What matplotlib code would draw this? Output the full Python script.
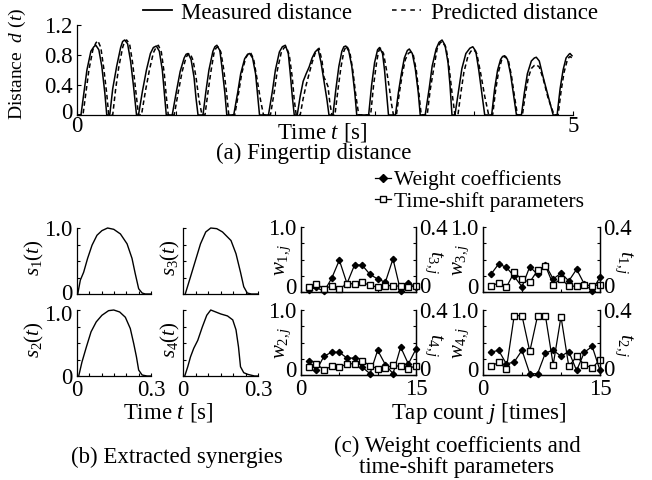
import matplotlib.pyplot as plt
from matplotlib.lines import Line2D
from matplotlib.transforms import ScaledTranslation

plt.rcParams["font.family"] = "Liberation Serif"
plt.rcParams["mathtext.fontset"] = "custom"
plt.rcParams["mathtext.rm"] = "Liberation Serif"
plt.rcParams["mathtext.it"] = "Liberation Serif:italic"
plt.rcParams["font.size"] = 16.5
plt.rcParams["xtick.direction"] = "in"
plt.rcParams["ytick.direction"] = "in"
plt.rcParams["xtick.major.pad"] = 3
plt.rcParams["ytick.major.pad"] = 3
plt.rcParams["axes.linewidth"] = 0.9

# --- (a) fingertip distance, one hump per line ---
meas_t = [0.00,
          0.04, 0.07, 0.10, 0.14, 0.17, 0.19, 0.22, 0.25, 0.28, 0.30,
          0.33, 0.36, 0.40, 0.44, 0.46, 0.48, 0.51, 0.54, 0.57, 0.60,
          0.62, 0.66, 0.70, 0.74, 0.77, 0.80, 0.83, 0.86, 0.88, 0.90,
          0.96, 1.00, 1.04, 1.08, 1.10, 1.12, 1.15, 1.18, 1.20, 1.22,
          1.27, 1.30, 1.33, 1.37, 1.39, 1.41, 1.44, 1.46, 1.49, 1.51,
          1.58, 1.62, 1.65, 1.69, 1.72, 1.74, 1.77, 1.80, 1.82, 1.84,
          1.93, 1.97, 2.00, 2.04, 2.07, 2.10, 2.13, 2.15, 2.17, 2.19,
          2.22, 2.25, 2.28, 2.31, 2.34, 2.37, 2.40, 2.43, 2.46, 2.49, 2.52, 2.54,
          2.58, 2.61, 2.64, 2.67, 2.69, 2.71, 2.74, 2.77, 2.80, 2.82,
          2.94, 2.97, 3.00, 3.03, 3.05, 3.08, 3.10, 3.12, 3.14,
          3.21, 3.24, 3.27, 3.30, 3.33, 3.35, 3.38, 3.41, 3.44, 3.46,
          3.51, 3.55, 3.58, 3.62, 3.65, 3.68, 3.71, 3.74, 3.76, 3.78,
          3.81, 3.85, 3.88, 3.92, 3.96, 3.99, 4.02, 4.05, 4.08, 4.11,
          4.18, 4.21, 4.24, 4.27, 4.29, 4.31, 4.34, 4.37, 4.40, 4.43,
          4.48, 4.51, 4.54, 4.58, 4.61, 4.63, 4.66, 4.70, 4.75, 4.80,
          4.84, 4.87, 4.90, 4.93, 4.96, 4.97, 4.99]
meas_d = [0.0,
          0.0, 0.30, 0.60, 0.85, 0.91, 0.93, 0.87, 0.65, 0.30, 0.0,
          0.0, 0.35, 0.65, 0.90, 0.98, 1.00, 0.95, 0.72, 0.38, 0.0,
          0.0, 0.32, 0.60, 0.82, 0.90, 0.92, 0.85, 0.60, 0.30, 0.0,
          0.0, 0.30, 0.58, 0.76, 0.81, 0.82, 0.74, 0.50, 0.22, 0.0,
          0.0, 0.32, 0.60, 0.85, 0.91, 0.93, 0.86, 0.65, 0.30, 0.0,
          0.0, 0.30, 0.55, 0.75, 0.81, 0.82, 0.76, 0.55, 0.28, 0.0,
          0.0, 0.32, 0.60, 0.84, 0.91, 0.93, 0.82, 0.55, 0.25, 0.0,
          0.0, 0.25, 0.45, 0.55, 0.64, 0.76, 0.84, 0.88, 0.70, 0.45, 0.20, 0.0,
          0.0, 0.35, 0.65, 0.85, 0.91, 0.92, 0.85, 0.65, 0.30, 0.0,
          0.0, 0.40, 0.70, 0.87, 0.90, 0.82, 0.60, 0.30, 0.0,
          0.0, 0.30, 0.55, 0.76, 0.86, 0.88, 0.82, 0.62, 0.30, 0.0,
          0.0, 0.35, 0.65, 0.88, 0.97, 1.00, 0.93, 0.70, 0.40, 0.0,
          0.0, 0.35, 0.62, 0.82, 0.89, 0.91, 0.85, 0.60, 0.30, 0.0,
          0.0, 0.35, 0.60, 0.74, 0.78, 0.79, 0.74, 0.55, 0.28, 0.0,
          0.0, 0.30, 0.55, 0.72, 0.76, 0.77, 0.72, 0.50, 0.25, 0.0,
          0.0, 0.35, 0.60, 0.76, 0.81, 0.82, 0.79]

pred_t = [0.00,
          0.06, 0.09, 0.12, 0.16, 0.19, 0.21, 0.24, 0.27, 0.30, 0.32,
          0.36, 0.39, 0.42, 0.46, 0.48, 0.50, 0.53, 0.56, 0.59, 0.62,
          0.65, 0.69, 0.73, 0.77, 0.80, 0.82, 0.85, 0.88, 0.90, 0.92,
          0.98, 1.02, 1.06, 1.10, 1.12, 1.14, 1.17, 1.20, 1.23, 1.26,
          1.29, 1.32, 1.35, 1.38, 1.40, 1.42, 1.45, 1.48, 1.51, 1.53,
          1.59, 1.63, 1.66, 1.70, 1.73, 1.75, 1.78, 1.81, 1.85, 1.88,
          1.95, 1.99, 2.02, 2.06, 2.09, 2.11, 2.14, 2.17, 2.19, 2.21,
          2.25, 2.28, 2.31, 2.34, 2.37, 2.40, 2.44, 2.47, 2.49, 2.51, 2.53, 2.55, 2.57,
          2.60, 2.63, 2.66, 2.69, 2.71, 2.72, 2.75, 2.78, 2.81, 2.84,
          2.96, 2.99, 3.02, 3.04, 3.06, 3.09, 3.12, 3.15, 3.17, 3.19,
          3.22, 3.25, 3.28, 3.31, 3.34, 3.36, 3.39, 3.42, 3.45, 3.47,
          3.53, 3.56, 3.60, 3.63, 3.66, 3.68, 3.72, 3.75, 3.78, 3.81,
          3.84, 3.87, 3.90, 3.94, 3.97, 4.00, 4.03, 4.07, 4.11, 4.15,
          4.19, 4.22, 4.25, 4.28, 4.30, 4.32, 4.35, 4.38, 4.41, 4.44,
          4.49, 4.52, 4.55, 4.58, 4.61, 4.63, 4.66, 4.70, 4.75, 4.81,
          4.85, 4.88, 4.91, 4.94, 4.96, 4.97, 4.99]
pred_d = [0.0,
          0.0, 0.30, 0.60, 0.87, 0.96, 0.99, 0.90, 0.62, 0.28, 0.0,
          0.0, 0.35, 0.63, 0.90, 0.98, 1.00, 0.95, 0.70, 0.35, 0.0,
          0.0, 0.32, 0.60, 0.83, 0.91, 0.93, 0.84, 0.55, 0.25, 0.0,
          0.0, 0.30, 0.58, 0.77, 0.81, 0.82, 0.73, 0.50, 0.20, 0.0,
          0.0, 0.30, 0.58, 0.82, 0.89, 0.91, 0.84, 0.60, 0.27, 0.0,
          0.0, 0.30, 0.55, 0.76, 0.82, 0.83, 0.75, 0.52, 0.20, 0.0,
          0.0, 0.32, 0.60, 0.84, 0.90, 0.91, 0.80, 0.50, 0.20, 0.0,
          0.0, 0.22, 0.40, 0.55, 0.70, 0.82, 0.89, 0.72, 0.50, 0.45, 0.38, 0.15, 0.0,
          0.0, 0.33, 0.63, 0.85, 0.91, 0.92, 0.84, 0.60, 0.27, 0.0,
          0.0, 0.40, 0.70, 0.85, 0.89, 0.82, 0.60, 0.35, 0.15, 0.0,
          0.0, 0.30, 0.55, 0.74, 0.82, 0.84, 0.80, 0.60, 0.25, 0.0,
          0.0, 0.33, 0.65, 0.88, 0.96, 0.98, 0.90, 0.65, 0.30, 0.0,
          0.0, 0.30, 0.57, 0.78, 0.85, 0.87, 0.82, 0.55, 0.25, 0.0,
          0.0, 0.33, 0.58, 0.73, 0.77, 0.78, 0.72, 0.52, 0.25, 0.0,
          0.0, 0.28, 0.50, 0.62, 0.66, 0.67, 0.64, 0.48, 0.22, 0.0,
          0.0, 0.32, 0.57, 0.72, 0.77, 0.78, 0.76]

# --- (b) extracted synergies ---
syn1_t = [0.003, 0.0135, 0.027, 0.043, 0.061, 0.081, 0.101, 0.124, 0.149, 0.176, 0.203, 0.223, 0.236, 0.25, 0.264, 0.277, 0.3]
syn1 = [0.0, 0.21, 0.33, 0.54, 0.74, 0.89, 0.96, 1.0, 0.98, 0.91, 0.76, 0.54, 0.31, 0.08, 0.015, 0.0, 0.0]
syn2_t = [0.007, 0.02, 0.038, 0.057, 0.078, 0.101, 0.128, 0.149, 0.173, 0.196, 0.216, 0.23, 0.241, 0.25, 0.264, 0.284, 0.3]
syn2 = [0.0, 0.21, 0.44, 0.67, 0.82, 0.92, 0.99, 1.0, 0.97, 0.89, 0.72, 0.49, 0.29, 0.09, 0.015, 0.0, 0.0]
syn3_t = [0.009, 0.03, 0.05, 0.07, 0.091, 0.111, 0.135, 0.158, 0.192, 0.212, 0.23, 0.243, 0.257, 0.273, 0.3]
syn3 = [0.0, 0.26, 0.51, 0.76, 0.94, 1.0, 0.99, 0.94, 0.81, 0.61, 0.33, 0.11, 0.015, 0.0, 0.0]
syn4_t = [0.007, 0.019, 0.03, 0.043, 0.059, 0.077, 0.095, 0.111, 0.131, 0.151, 0.178, 0.199, 0.212, 0.222, 0.23, 0.243, 0.259, 0.286, 0.3]
syn4 = [0.0, 0.14, 0.29, 0.42, 0.54, 0.74, 0.92, 1.0, 0.97, 0.94, 0.91, 0.85, 0.70, 0.44, 0.14, 0.05, 0.025, 0.0, 0.0]

# --- (c) weights and time shifts per tap ---
taps = list(range(1, 16))
w1 = [0.035, 0.07, 0.01, 0.21, 0.49, 0.13, 0.42, 0.41, 0.27, 0.20, 0.15, 0.51, 0.01, 0.14, 0.08]
w2 = [0.21, 0.07, 0.29, 0.35, 0.35, 0.26, 0.26, 0.12, 0.02, 0.38, 0.16, 0.02, 0.43, 0.17, 0.40]
w3 = [0.27, 0.43, 0.38, 0.24, 0.08, 0.39, 0.27, 0.42, 0.20, 0.29, 0.17, 0.35, 0.12, 0.02, 0.23]
w4 = [0.35, 0.38, 0.17, 0.20, 0.38, 0.02, 0.02, 0.34, 0.38, 0.29, 0.36, 0.07, 0.35, 0.44, 0.07]
ts1 = [0.040, 0.053, 0.030, 0.121, 0.077, 0.061, 0.133, 0.162, 0.046, 0.081, 0.036, 0.036, 0.046, 0.036, 0.046]
ts2 = [0.053, 0.078, 0.039, 0.365, 0.365, 0.145, 0.365, 0.365, 0.063, 0.359, 0.053, 0.114, 0.063, 0.043, 0.094]
ts3 = [0.030, 0.051, 0.018, 0.039, 0.020, 0.051, 0.051, 0.059, 0.041, 0.030, 0.039, 0.039, 0.035, 0.030, 0.039]
ts4 = [0.047, 0.067, 0.033, 0.053, 0.047, 0.069, 0.069, 0.088, 0.057, 0.039, 0.043, 0.059, 0.053, 0.039, 0.057]

W, H = 652, 480


def box(left, top, right, bottom):
    # pixel box -> figure fraction rect
    return [left / W, 1 - bottom / H, (right - left) / W, (bottom - top) / H]


def nudge(label, dy_px):
    label.set_transform(label.get_transform() + ScaledTranslation(0, dy_px / 100, fig.dpi_scale_trans))


fig = plt.figure(figsize=(W / 100, H / 100), dpi=100)

# --- (a) ---
ax = fig.add_axes(box(77, 25, 573, 115))
ax.plot(meas_t, meas_d, color="k", lw=1.1)
ax.plot(pred_t, pred_d, color="k", lw=1.1, ls=(0, (3, 2)))
ax.set_xlim(0, 5)
ax.set_ylim(0, 1.2)
ax.spines[["top", "right"]].set_visible(False)
ax.set_xticks([0, 1, 2, 3, 4, 5], ["0", "", "", "", "", "5"])
ax.set_yticks([0, 0.4, 0.8, 1.2], ["0", "0.4", "0.8", "1.2"])
ax.tick_params(length=3, width=0.8)
ax.tick_params(axis="x", pad=0.5)
nudge(ax.get_yticklabels()[0], 4)
ax.set_ylabel("Distance  $d$ $(t)$", fontsize=14, va="center")
ax.yaxis.set_label_coords(-0.121, 0.57)
fig.legend(handles=[Line2D([], [], color="k", lw=1.3),
                    Line2D([], [], color="k", lw=1.1, ls=(0, (3, 3)))],
           labels=["Measured distance", "Predicted distance"],
           loc="center left", bbox_to_anchor=(143 / W, 1 - 13 / H), ncol=2,
           frameon=False, handlelength=1.25, handletextpad=0.42,
           columnspacing=1.75, borderpad=0, borderaxespad=0)
fig.text(322 / W, 1 - 132 / H, "Time $t$ [s]", ha="center", va="center")
fig.text(314 / W, 1 - 153 / H, "(a) Fingertip distance", ha="center", va="center")

# --- (b) ---
syn_boxes = [(77, 228, 151, 294), (77, 310, 151, 376), (183, 228, 258, 294), (183, 310, 258, 376)]
syn_data = [(syn1_t, syn1), (syn2_t, syn2), (syn3_t, syn3), (syn4_t, syn4)]
for k in range(4):
    a = fig.add_axes(box(*syn_boxes[k]))
    a.plot(syn_data[k][0], syn_data[k][1], color="k", lw=1.0, clip_on=False)
    a.set_xlim(0, 0.3)
    a.set_ylim(0, 1.0)
    a.spines[["top", "right"]].set_visible(False)
    left_col = k < 2
    bottom_row = k % 2 == 1
    a.set_xticks([0, 0.05, 0.1, 0.15, 0.2, 0.25, 0.3],
                 ["0", "", "", "", "", "", "0.3"] if bottom_row else [""] * 7)
    a.set_yticks([0, 0.25, 0.5, 0.75, 1.0],
                 ["0", "", "", "", "1.0"] if left_col else [""] * 5)
    a.tick_params(length=2.5, width=0.8)
    if left_col:
        if bottom_row:
            nudge(a.get_yticklabels()[-1], -3)
        else:
            nudge(a.get_yticklabels()[0], 2)
    a.set_ylabel("$s_%d(t)$" % (k + 1), fontsize=15, va="center")
    a.yaxis.set_label_coords(-0.57 if left_col else -0.17, 0.55)
fig.text(168 / W, 1 - 413 / H, "Time $t$ [s]", ha="center", va="center")
fig.text(177 / W, 1 - 457 / H, "(b) Extracted synergies", ha="center", va="center")

# --- (c) ---
w_boxes = [(301, 227, 416, 292), (301, 310, 416, 375), (483, 227, 600, 292), (483, 310, 600, 375)]
w_sets = [(w1, ts3, "$w_{1,j}$", "$t_{3,j}$"), (w2, ts4, "$w_{2,j}$", "$t_{4,j}$"),
          (w3, ts1, "$w_{3,j}$", "$t_{1,j}$"), (w4, ts2, "$w_{4,j}$", "$t_{2,j}$")]
for k in range(4):
    a = fig.add_axes(box(*w_boxes[k]))
    b = a.twinx()
    w, ts, wl, tl = w_sets[k]
    a.plot(taps, w, color="k", lw=0.9, marker="D", ms=3.2, clip_on=False, zorder=3)
    b.plot(taps, ts, color="k", lw=0.9, marker="s", ms=4.2, mfc="white", clip_on=False)
    a.set_xlim(0, 15)
    a.set_ylim(0, 1.0)
    b.set_ylim(0, 0.4)
    a.spines["top"].set_visible(False)
    b.spines["top"].set_visible(False)
    bottom_row = k % 2 == 1
    a.set_xticks([0, 5, 10, 15], ["0", "", "", "15"] if bottom_row else [""] * 4)
    a.set_yticks([0, 0.25, 0.5, 0.75, 1.0], ["0", "", "", "", "1.0"])
    b.set_yticks([0, 0.1, 0.2, 0.3, 0.4], ["0", "", "", "", "0.4"])
    a.tick_params(length=2.5, width=0.8)
    b.tick_params(length=2.5, width=0.8, pad=2)
    nudge(a.get_yticklabels()[0], 6)
    nudge(b.get_yticklabels()[0], 7)
    a.set_ylabel(wl, fontsize=15, va="center")
    b.set_ylabel(tl, fontsize=15, rotation=-90, va="center")
    left_col = k < 2
    a.yaxis.set_label_coords(-0.157 if left_col else -0.188, 0.5)
    b.yaxis.set_label_coords(1.157 if left_col else 1.205, 0.45)

fig.legend(handles=[Line2D([], [], color="k", lw=0.9, marker="D", ms=4),
                    Line2D([], [], color="k", lw=0.9, marker="s", ms=5, mfc="white")],
           labels=["Weight coefficients", "Time-shift parameters"],
           loc="center left", bbox_to_anchor=(375 / W, 1 - 191 / H), numpoints=1,
           fontsize=15.5, frameon=False, handlelength=0.75, handletextpad=0.15,
           labelspacing=0.05, borderpad=0, borderaxespad=0)
fig.text(478 / W, 1 - 413 / H, "Tap count $j$ [times]", ha="center", va="center")
fig.text(457 / W, 1 - 457 / H, "(c) Weight coefficients and\ntime-shift parameters",
         ha="center", va="center", multialignment="center", linespacing=1.05)

fig.savefig("out.png", dpi=100)
